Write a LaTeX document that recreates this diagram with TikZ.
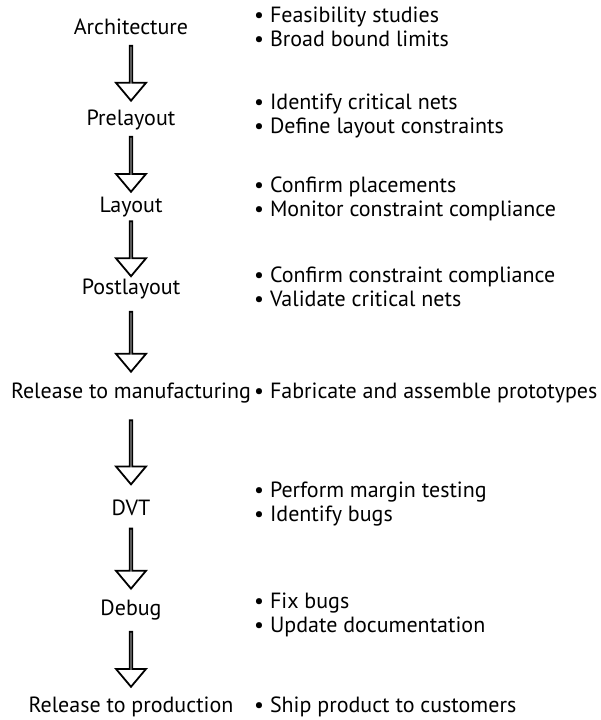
\documentclass[tikz,border=0pt]{standalone}
\usepackage{fontspec}
\setmainfont{PT Sans}
\usetikzlibrary{shapes.arrows}

\tikzset{
  stage/.style={font=\fontsize{22}{24.5}\selectfont, inner sep=1pt},
  notes/.style={font=\fontsize{22}{24.5}\selectfont, anchor=west, align=left, inner sep=1pt},
  bigarrow/.style={single arrow, draw=black, line width=1.8pt, fill=white,
    minimum height=#1, minimum width=30pt, inner sep=0pt,
    single arrow head extend=10pt, single arrow tip angle=80,
    shape border rotate=270},
  bigarrow/.default=55pt
}

\begin{document}
\begin{tikzpicture}[x=1pt,y=-1pt]
  \useasboundingbox (0,0) rectangle (601,720);

  % stages down the left
  \node[stage] (arch) at (131,27) {Architecture};
  \node[stage] (pre) at (131,120) {Prelayout};
  \node[stage] (lay) at (131,207) {Layout};
  \node[stage] (post) at (131,289) {Postlayout};
  \node[stage] (rtm) at (131,393) {Release to manufacturing};
  \node[stage] (dvt) at (131,508) {DVT};
  \node[stage] (dbg) at (131,610) {Debug};
  \node[stage] (rtp) at (131,707) {Release to production};

  % tasks for each stage
  \node[notes] (archtasks) at (253,27) {• Feasibility studies\\• Broad bound limits};
  \node[notes] (pretasks) at (253,116) {• Identify critical nets\\• Define layout constraints};
  \node[notes] (laytasks) at (253,199) {• Confirm placements\\• Monitor constraint compliance};
  \node[notes] (posttasks) at (253,287) {• Confirm constraint compliance\\• Validate critical nets};
  \node[notes] (rtmtasks) at (253,393) {• Fabricate and assemble prototypes};
  \node[notes] (dvttasks) at (253,504) {• Perform margin testing\\• Identify bugs};
  \node[notes] (dbgtasks) at (253,615) {• Fix bugs\\• Update documentation};
  \node[notes] (rtptasks) at (253,707) {• Ship product to customers};

  \path (arch) -- node[bigarrow] {} (pre);
  \path (pre) -- node[bigarrow] {} (lay);
  \path (lay) -- node[bigarrow] {} (post);
  \path (post) -- node[bigarrow=60pt] {} (rtm);
  \path (rtm) -- node[bigarrow=64pt] {} (dvt);
  \path (dvt) -- node[bigarrow=60pt] {} (dbg);
  \path (dbg) -- node[bigarrow] {} (rtp);

\end{tikzpicture}
\end{document}
